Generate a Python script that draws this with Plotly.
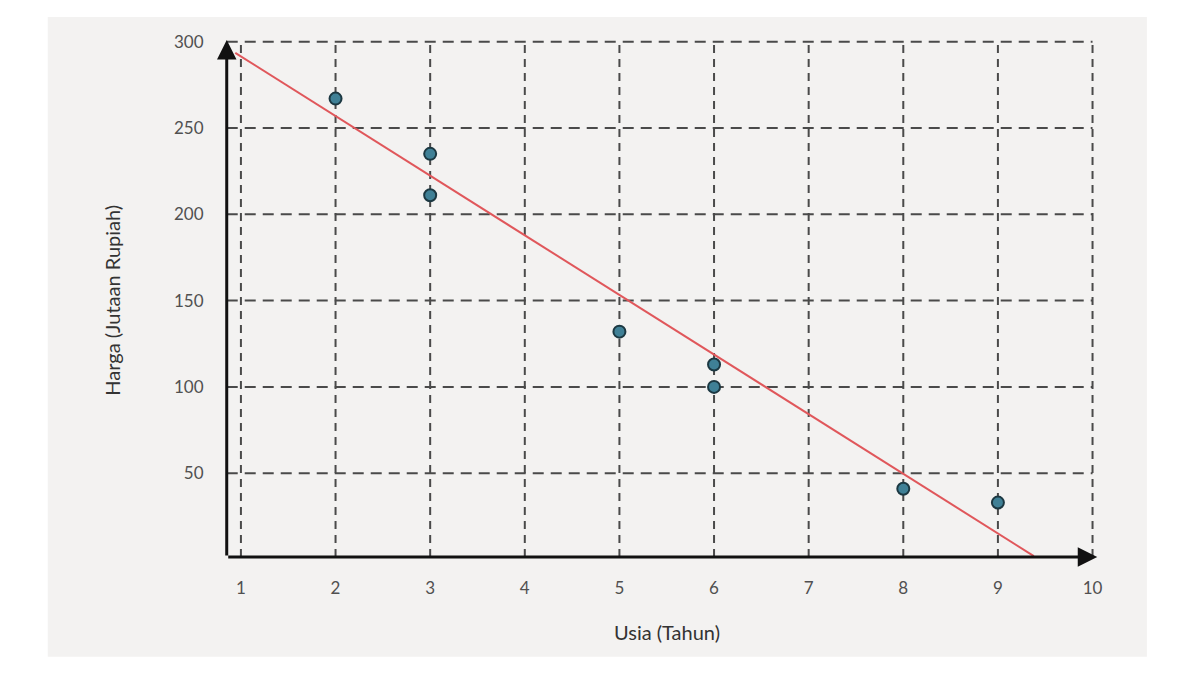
import plotly.graph_objects as go

# Data
usia = [2, 3, 3, 5, 6, 6, 8, 9]
harga = [267, 235, 211, 132, 113, 100, 41, 33]

# Regression line endpoints
line_x = [0.94, 9.38]
line_y = [293.5, 2.0]

x_ticks = [1, 2, 3, 4, 5, 6, 7, 8, 9, 10]
y_ticks = [50, 100, 150, 200, 250, 300]

x_title = "Usia (Tahun)"
y_title = "Harga (Jutaan Rupiah)"

FONT = "Lato"
TICK_COLOR = "#505050"
GRID_COLOR = "#4a4a4a"
AXIS_X0 = 0.85
AXIS_Y0 = 1.5

fig = go.Figure()

fig.add_trace(go.Scatter(
    x=line_x, y=line_y, mode="lines",
    line=dict(color="#e0575b", width=2),
    hoverinfo="skip", showlegend=False,
))
fig.add_trace(go.Scatter(
    x=usia, y=harga, mode="markers",
    marker=dict(size=12, color="#3f8096", line=dict(color="#1c3842", width=2)),
    showlegend=False,
))

shapes = []
# background panel
shapes.append(dict(type="rect", xref="paper", yref="paper",
                   x0=-0.198, x1=1.051, y0=-0.177, y1=1.030,
                   fillcolor="#f3f2f1", line=dict(width=0), layer="below"))
# grid lines
for xv in x_ticks:
    shapes.append(dict(type="line", xref="x", yref="y", x0=xv, x1=xv,
                       y0=AXIS_Y0, y1=max(y_ticks),
                       line=dict(color=GRID_COLOR, width=2, dash="8px,6px"),
                       layer="below"))
for yv in y_ticks:
    shapes.append(dict(type="line", xref="x", yref="y", x0=AXIS_X0, x1=max(x_ticks),
                       y0=yv, y1=yv,
                       line=dict(color=GRID_COLOR, width=2, dash="11px,7px"),
                       layer="below"))

annotations = [
    # x axis arrow
    dict(x=10.05, y=AXIS_Y0, ax=AXIS_X0, ay=AXIS_Y0, xref="x", yref="y",
         axref="x", ayref="y", text="", showarrow=True, arrowhead=2,
         arrowsize=1.3, arrowwidth=3, arrowcolor="#111111"),
    # y axis arrow
    dict(x=AXIS_X0, y=301, ax=AXIS_X0, ay=AXIS_Y0, xref="x", yref="y",
         axref="x", ayref="y", text="", showarrow=True, arrowhead=2,
         arrowsize=1.3, arrowwidth=3, arrowcolor="#111111"),
    dict(x=0.5057, y=-0.130, xref="paper", yref="paper", text=x_title,
         showarrow=False, xanchor="center", yanchor="middle",
         font=dict(family=FONT, size=20, color="#333333")),
    dict(x=-0.125, y=0.495, xref="paper", yref="paper", text=y_title,
         showarrow=False, textangle=-90, xanchor="center", yanchor="middle",
         font=dict(family=FONT, size=20, color="#333333")),
]

fig.update_layout(
    width=1192, height=667,
    margin=dict(l=214, r=98, t=25, b=112),
    paper_bgcolor="white",
    plot_bgcolor="rgba(0,0,0,0)",
    shapes=shapes,
    annotations=annotations,
    xaxis=dict(range=[0.8, 10.1], tickvals=x_ticks, ticktext=[str(v) for v in x_ticks],
               showgrid=False, zeroline=False, showline=False,
               ticks="outside", ticklen=10, tickcolor="rgba(0,0,0,0)",
               tickfont=dict(family=FONT, size=17, color=TICK_COLOR)),
    yaxis=dict(range=[-2, 305], tickvals=y_ticks, ticktext=[str(v) for v in y_ticks],
               showgrid=False, zeroline=False, showline=False,
               ticks="outside", ticklen=14, tickcolor="rgba(0,0,0,0)",
               tickfont=dict(family=FONT, size=17, color=TICK_COLOR)),
    showlegend=False,
)

fig.write_html("out.html")
